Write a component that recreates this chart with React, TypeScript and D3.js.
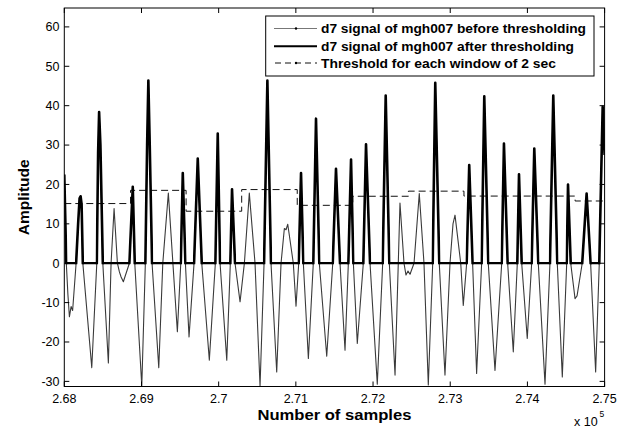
import React from "react";
import * as d3 from "d3";

// ---- data ----
const sampleIdx = [
  268000, 268026, 268047, 268066, 268088, 268108, 268153, 268179, 268198, 268211, 268224, 268240,
  268356, 268421, 268438, 268451, 268468, 268499, 268571, 268606, 268645, 268688, 268714, 268736,
  268765, 268843, 268887, 268913, 269004, 269050, 269073, 269089, 269107, 269137, 269224, 269276,
  269348, 269407, 269465, 269509, 269535, 269569, 269616, 269681, 269729, 269781, 269879, 269957,
  269988, 270018, 270105, 270151, 270173, 270212, 270277, 270333, 270397, 270471, 270536, 270588,
  270631, 270678, 270752, 270808, 270851, 270873, 270895, 270967, 271002, 271037, 271067, 271097,
  271162, 271226, 271261, 271304, 271400, 271478, 271520, 271572, 271637, 271680, 271715, 271745,
  271796, 271874, 271909, 271961, 272055, 272125, 272164, 272211, 272285, 272327, 272349, 272401,
  272427, 272453, 272479, 272531, 272599, 272660, 272716, 272773, 272806, 272858, 272932, 272997,
  273036, 273062, 273136, 273169, 273213, 273246, 273290, 273342, 273407, 273441, 273493, 273580,
  273667, 273696, 273744, 273817, 273869, 273891, 273926, 273998, 274055, 274089, 274141, 274228,
  274292, 274335, 274387, 274452, 274509, 274526, 274561, 274617, 274643, 274710, 274767, 274819,
  274884, 274931, 274975, 275000,
];
const amplitude = [
  22.5, 0, -8, -13.6, -11, -12, 0, 10, 16.5, 17, 15, 0,
  -26.5, 0, 28, 38.4, 30, 0, -25.3, 0, 13.9, 0, -2.2, -3.5,
  -4.7, 0, 19.4, 0, -31.2, 0, 30, 46.4, 30, 0, -26.5, 0,
  17.8, 0, -17.4, 0, 22.9, 0, -18.7, 0, 26.6, 0, -24.6, 0,
  32.9, 0, -24.6, 0, 18.8, 0, -9.8, 0, 17.8, 0, -31.2, 0,
  46.4, 0, -27.6, 0, 8.8, 8.5, 9.9, 0, -10.9, 0, 22.9, 0,
  -24.2, 0, 36.7, 0, -23.6, 0, 24, 0, -22.1, 0, 26.3, 0,
  -20.4, 0, 30.2, 0, -30.7, 0, 42.6, 0, -28.4, 0, 15.3, 0,
  -3, -2, -2.8, 0, 17.7, 0, -30.9, 0, 45.8, 0, -28.4, 0,
  10, 12.2, 0, -10.7, 0, 24.9, 0, -28, 0, 42.4, 0, -27.2,
  0, 30.4, 0, -22.5, 0, 22.6, 0, -19.1, 0, 29.1, 0, -30.7,
  0, 42.6, 0, -28.9, 0, 20, 0, -9, -8.3, 0, 17.7, 0,
  -27.6, 0, 39.7, 27.5,
];
const windowStarts = [268000, 268858, 269578, 270298, 271018, 271738, 272458, 273178, 273898, 274618, 275000];
const windowThresholds = [15.15, 18.5, 13.2, 18.7, 14.7, 17.0, 18.3, 17.05, 17.05, 15.8];

const xTicks = [268000, 269000, 270000, 271000, 272000, 273000, 274000, 275000];
const xTickLabels = ["2.68", "2.69", "2.7", "2.71", "2.72", "2.73", "2.74", "2.75"];
const yTicks = [-30, -20, -10, 0, 10, 20, 30, 40, 50, 60];
const legendLabels = [
  "d7 signal of mgh007 before thresholding",
  "d7 signal of mgh007 after thresholding",
  "Threshold for each window of 2 sec",
];

const W = 628;
const H = 430;
const L = 64.3, R = 604.6, T = 8, B = 386.5;
const FONT = "'Liberation Sans', Arial, Helvetica, sans-serif";

export default function App() {
  const x = d3.scaleLinear().domain([268000, 275000]).range([L, R]);
  const y = d3.scaleLinear().domain([-31.3, 64.8]).range([B, T]);

  const pts: [number, number][] = sampleIdx.map((s, i) => [s, amplitude[i]]);
  const line = d3
    .line<[number, number]>()
    .x((d) => x(d[0]))
    .y((d) => y(d[1]))
    .curve(d3.curveLinear);
  const signalPath = line(pts) || "";

  const thrAt = (s: number) => {
    let k = 0;
    for (let i = 0; i < windowThresholds.length; i++) if (s >= windowStarts[i]) k = i;
    return windowThresholds[k];
  };

  // positive lobes whose peak exceeds the window threshold
  const kept: { lo: number; hi: number }[] = [];
  let i = 0;
  while (i < amplitude.length) {
    if (amplitude[i] > 0) {
      let j = i;
      let mx = -Infinity, mxi = i;
      while (j < amplitude.length && amplitude[j] > 0) {
        if (amplitude[j] > mx) { mx = amplitude[j]; mxi = j; }
        j++;
      }
      const lo = Math.max(0, i - 1);
      const hi = Math.min(amplitude.length - 1, j);
      if (mx > thrAt(sampleIdx[mxi])) kept.push({ lo: i === 0 ? 0 : lo, hi });
      i = j;
    } else i++;
  }

  // zero baseline segments between kept lobes
  const baseSegs: [number, number][] = [];
  let cur = sampleIdx[0];
  kept.forEach((k) => {
    const a = sampleIdx[k.lo];
    if (a > cur) baseSegs.push([cur, a]);
    cur = sampleIdx[k.hi];
  });
  if (cur < sampleIdx[sampleIdx.length - 1]) baseSegs.push([cur, sampleIdx[sampleIdx.length - 1]]);

  const stairPts: [number, number][] = windowStarts.map((s, k) => [
    s,
    windowThresholds[Math.min(k, windowThresholds.length - 1)],
  ]);
  const stair = d3
    .line<[number, number]>()
    .x((d) => x(d[0]))
    .y((d) => y(d[1]))
    .curve(d3.curveStepAfter);
  const thrPath = stair(stairPts) || "";

  const y0 = y(0);
  const tickLen = 5;

  const legX = 265.7, legY = 16, legW = 328.3, legH = 60;
  const rows = [28.5, 46.3, 63];
  const legLens = [265, 253, 235];

  return (
    <div style={{ position: "fixed", left: 0, top: 0 }}>
      <svg width={W} height={H} style={{ display: "block", background: "#fff" }} fontFamily={FONT}>
        <defs>
          <clipPath id="plotClip">
            <rect x={L} y={T} width={R - L} height={B - T} />
          </clipPath>
          <clipPath id="lobeClip">
            {kept.map((k, n) => (
              <rect
                key={n}
                x={x(sampleIdx[k.lo]) - 1.3}
                y={T}
                width={x(sampleIdx[k.hi]) - x(sampleIdx[k.lo]) + 2.6}
                height={y0 + 1.1 - T}
              />
            ))}
          </clipPath>
        </defs>
        <rect x={0} y={0} width={W} height={H} fill="#fff" />
        <g clipPath="url(#plotClip)">
          <path d={thrPath} fill="none" stroke="#111" strokeWidth={1} strokeDasharray="7,4" />
          <path d={signalPath} fill="none" stroke="#3a3a3a" strokeWidth={1.1} strokeLinejoin="round" />
          <g clipPath="url(#lobeClip)">
            <path d={signalPath} fill="none" stroke="#000" strokeWidth={2.6} strokeLinejoin="round" />
          </g>
          {baseSegs.map((s, n) => (
            <line key={n} x1={x(s[0])} x2={x(s[1])} y1={y0} y2={y0} stroke="#000" strokeWidth={2.2} />
          ))}
        </g>
        {/* frame */}
        <rect x={L} y={T} width={R - L} height={B - T} fill="none" stroke="#000" strokeWidth={1} />
        {/* x ticks */}
        {xTicks.map((t, k) => (
          <g key={"x" + k}>
            <line x1={x(t)} x2={x(t)} y1={B} y2={B - tickLen} stroke="#000" />
            <line x1={x(t)} x2={x(t)} y1={T} y2={T + tickLen} stroke="#000" />
            <text x={x(t)} y={402.5} fontSize={12.5} textAnchor="middle" fill="#000">
              {xTickLabels[k]}
            </text>
          </g>
        ))}
        {/* y ticks */}
        {yTicks.map((t) => (
          <g key={"y" + t}>
            <line x1={L} x2={L + tickLen} y1={y(t)} y2={y(t)} stroke="#000" />
            <line x1={R} x2={R - tickLen} y1={y(t)} y2={y(t)} stroke="#000" />
            <text x={59.5} y={y(t) + 4.4} fontSize={12.5} textAnchor="end" fill="#000">
              {t}
            </text>
          </g>
        ))}
        {/* axis labels */}
        <text
          x={(L + R) / 2}
          y={420}
          fontSize={15}
          fontWeight="bold"
          textAnchor="middle"
          fill="#000"
          textLength={154}
          lengthAdjust="spacingAndGlyphs"
        >
          Number of samples
        </text>
        <text
          transform={`translate(29,${(T + B) / 2}) rotate(-90)`}
          fontSize={15}
          fontWeight="bold"
          textAnchor="middle"
          fill="#000"
          textLength={76}
          lengthAdjust="spacingAndGlyphs"
        >
          Amplitude
        </text>
        <text x={574} y={426} fontSize={12.5} fill="#000">
          x 10
        </text>
        <text x={599.5} y={416.5} fontSize={8.5} fill="#000">
          5
        </text>
        {/* legend */}
        <rect x={legX} y={legY} width={legW} height={legH} fill="#fff" stroke="#000" strokeWidth={1} />
        <line x1={274} x2={317} y1={rows[0]} y2={rows[0]} stroke="#777" strokeWidth={1} />
        <circle cx={296} cy={rows[0]} r={1.2} fill="#000" />
        <line x1={274} x2={317} y1={rows[1]} y2={rows[1]} stroke="#000" strokeWidth={2} />
        <line x1={274} x2={317} y1={rows[2]} y2={rows[2]} stroke="#111" strokeWidth={1} strokeDasharray="6,4" strokeDashoffset={-1} />
        <circle cx={296} cy={rows[2]} r={1.2} fill="#000" />
        {legendLabels.map((lab, k) => (
          <text
            key={k}
            x={321}
            y={rows[k] + 4.8}
            fontSize={13}
            fontWeight="bold"
            fill="#000"
            textLength={legLens[k]}
            lengthAdjust="spacingAndGlyphs"
          >
            {lab}
          </text>
        ))}
      </svg>
    </div>
  );
}
